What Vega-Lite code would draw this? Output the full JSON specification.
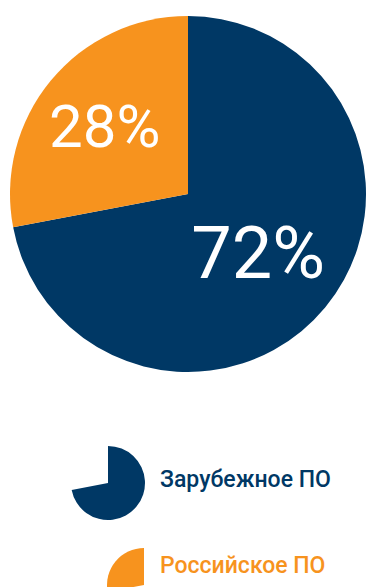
{
  "$schema": "https://vega.github.io/schema/vega-lite/v6.json",
  "padding": {"left": 10, "top": 0, "right": 0, "bottom": 0},
  "spacing": 0,
  "background": "white",
  "config": {"view": {"stroke": null}, "font": "Roboto"},
  "data": {"values": [
    {"series": "Зарубежное ПО", "value": 0.72},
    {"series": "Российское ПО", "value": 0.28}
  ]},
  "vconcat": [
    {
      "width": 356,
      "height": 388,
      "encoding": {
        "theta": {"field": "value", "type": "quantitative", "stack": true, "scale": {"domain": [0, 1]}},
        "order": {"field": "series", "sort": "ascending"}
      },
      "layer": [
        {
          "mark": {"type": "arc", "radius": 178},
          "encoding": {
            "color": {"field": "series", "type": "nominal", "scale": {"domain": ["Зарубежное ПО", "Российское ПО"], "range": ["#003865", "#F7931E"]}, "legend": null}
          }
        },
        {
          "mark": {"type": "text", "fill": "white", "align": "center", "baseline": "middle", "fontWeight": "normal", "dy": 4},
          "encoding": {
            "detail": {"field": "series"},
            "text": {"field": "value", "type": "quantitative", "format": ".0%"},
            "radius": {"field": "value", "type": "quantitative", "scale": {"type": "linear", "domain": [0.28, 0.72], "range": [108, 91], "zero": false}},
            "size": {"field": "value", "type": "quantitative", "scale": {"type": "linear", "domain": [0.28, 0.72], "range": [60, 72], "zero": false}, "legend": null}
          }
        }
      ]
    },
    {
      "width": 356,
      "height": 199,
      "transform": [
        {"stack": "value", "groupby": [], "sort": [{"field": "series", "order": "ascending"}], "as": ["v0", "v1"]}
      ],
      "layer": [
        {
          "mark": {"type": "arc", "radius": 37, "clip": true},
          "encoding": {
            "theta": {"field": "v0", "type": "quantitative", "scale": {"domain": [0, 1]}},
            "theta2": {"field": "v1"},
            "x": {"field": "series", "type": "nominal", "scale": {"type": "point", "range": [98, 134], "padding": 0}, "axis": null},
            "y": {"field": "series", "type": "nominal", "scale": {"type": "point", "range": [95, 197], "padding": 0}, "axis": null},
            "color": {"field": "series", "type": "nominal", "legend": null}
          }
        },
        {
          "mark": {"type": "text", "align": "left", "baseline": "alphabetic", "fontSize": 23, "fontWeight": 500},
          "encoding": {
            "text": {"field": "series"},
            "x": {"field": "series", "type": "nominal", "scale": {"type": "point", "range": [150, 150], "padding": 0}, "axis": null},
            "y": {"field": "series", "type": "nominal", "scale": {"type": "point", "range": [99, 185], "padding": 0}, "axis": null},
            "color": {"field": "series", "type": "nominal", "legend": null}
          }
        }
      ],
      "resolve": {"scale": {"x": "independent", "y": "independent"}}
    }
  ]
}
